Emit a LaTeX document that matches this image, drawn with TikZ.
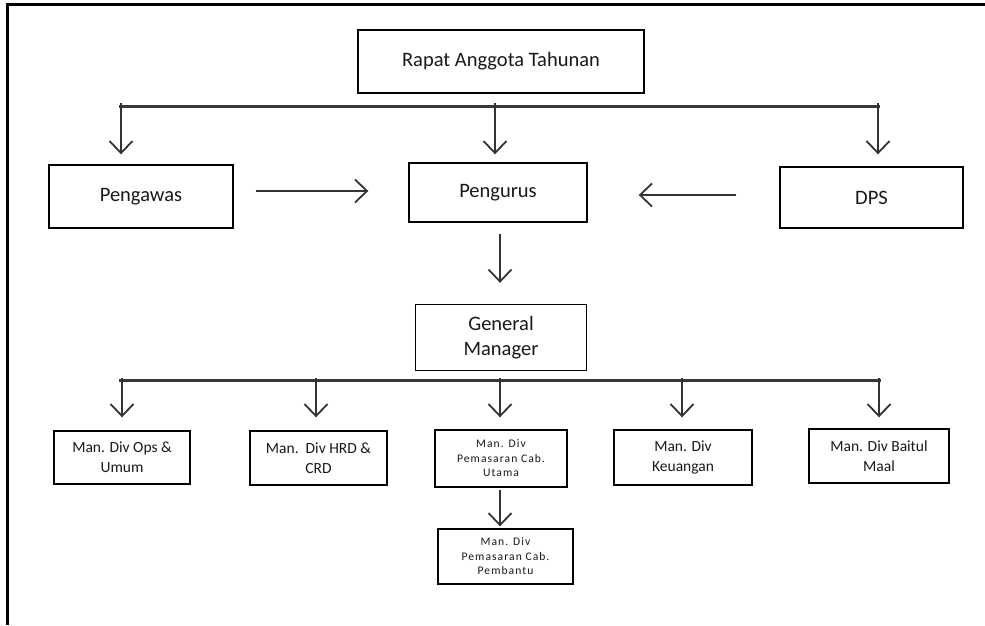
\documentclass[tikz,border=0pt]{standalone}
\usepackage{fontspec}
\setmainfont{Carlito}
\newfontfamily\spacedfont[LetterSpace=9]{Carlito}
\usetikzlibrary{arrows.meta}
\tikzset{
  box/.style={draw=black, line width=1.4pt, fill=white, align=center, inner sep=0pt, text=black!90},
  bigtext/.style={font=\fontsize{20.5}{25}\selectfont},
  midtext/.style={font=\fontsize{15.5}{20}\selectfont},
  smalltext/.style={font=\spacedfont\fontsize{11.6}{14.5}\selectfont},
  arr/.style={draw=black!80, line width=1.6pt, -{Straight Barb[length=12pt,width=23pt,line width=1.8pt]}},
  bus/.style={draw=black!78, line width=3pt},
  frame/.style={draw=black, line width=3pt}
}
\begin{document}
\begin{tikzpicture}[x=1pt,y=-1pt]
\useasboundingbox (0,0) rectangle (985,625);
% frame
\coordinate (fTL) at (7.5,4.5);
\coordinate (fBL) at (7.5,625);
\coordinate (fTR) at (985,4.5);
\draw[frame] (fBL) -- (fTL) -- (fTR);

% boxes
\node[box, bigtext, minimum width=286pt, minimum height=63pt] (rat) at (501,61.5) {Rapat Anggota Tahunan};
\node[box, bigtext, minimum width=184pt, minimum height=63pt] (pengawas) at (141,196.5) {Pengawas};
\node[box, bigtext, minimum width=178pt, minimum height=59pt] (pengurus) at (498,192.5) {Pengurus};
\node[box, bigtext, minimum width=183pt, minimum height=61pt] (dps) at (871.5,197.5) {DPS};
\node[box, bigtext, minimum width=171pt, minimum height=66pt] (gm) at (501,337.5) {General\\Manager};

\node[box, midtext, minimum width=136pt, minimum height=53pt] (ops) at (122,457.5) {Man. Div Ops \&\\Umum};
\node[box, midtext, minimum width=137pt, minimum height=54pt] (hrd) at (318.5,458) {Man.\ \ Div HRD \&\\CRD};
\node[box, smalltext, minimum width=132pt, minimum height=57pt] (utama) at (501,458.5) {Man. Div\\Pemasaran Cab.\\Utama};
\node[box, midtext, minimum width=138pt, minimum height=55pt] (keu) at (683,457.5) {Man. Div\\Keuangan};
\node[box, midtext, minimum width=140pt, minimum height=54pt] (baitul) at (879,456) {Man. Div Baitul\\Maal};
\node[box, smalltext, minimum width=135pt, minimum height=55pt] (pembantu) at (505.5,556.5) {Man. Div\\Pemasaran Cab.\\Pembantu};

% top bus
\coordinate (tbL) at (119,106);
\coordinate (tbR) at (880,106);
\draw[bus] (tbL) -- (tbR);
\coordinate (t1) at (121,103);
\coordinate (t2) at (495,103);
\coordinate (t3) at (878,103);
\draw[arr, shorten >=10pt] (t1) -- (t1 |- pengawas.north);
\draw[arr, shorten >=8pt] (t2) -- (t2 |- pengurus.north);
\draw[arr, shorten >=12pt] (t3) -- (t3 |- dps.north);

% side arrows
\coordinate (hL) at (0,191);
\coordinate (hR) at (0,195);
\draw[arr, shorten <=22pt, shorten >=40pt] (pengawas.east |- hL) -- (pengurus.west |- hL);
\draw[arr, shorten <=43pt, shorten >=51pt] (dps.west |- hR) -- (pengurus.east |- hR);

% pengurus -> gm
\coordinate (pg) at (500,0);
\draw[arr, shorten <=11pt, shorten >=21pt] (pengurus.south -| pg) -- (gm.north -| pg);

% lower bus
\coordinate (lbL) at (119,380);
\coordinate (lbR) at (881,380);
\draw[bus] (lbL) -- (lbR);
\coordinate (b1) at (122,378);
\coordinate (b2) at (316,378);
\coordinate (b3) at (500,378);
\coordinate (b4) at (682,378);
\coordinate (b5) at (879,378);
\draw[arr, shorten >=13pt] (b1) -- (b1 |- ops.north);
\draw[arr, shorten >=13pt] (b2) -- (b2 |- hrd.north);
\draw[arr, shorten >=12pt] (b3) -- (b3 |- utama.north);
\draw[arr, shorten >=12pt] (b4) -- (b4 |- keu.north);
\draw[arr, shorten >=11pt] (b5) -- (b5 |- baitul.north);

% utama -> pembantu
\coordinate (up) at (500,0);
\draw[arr, shorten <=2pt, shorten >=2pt] (utama.south -| up) -- (pembantu.north -| up);
\end{tikzpicture}
\end{document}
